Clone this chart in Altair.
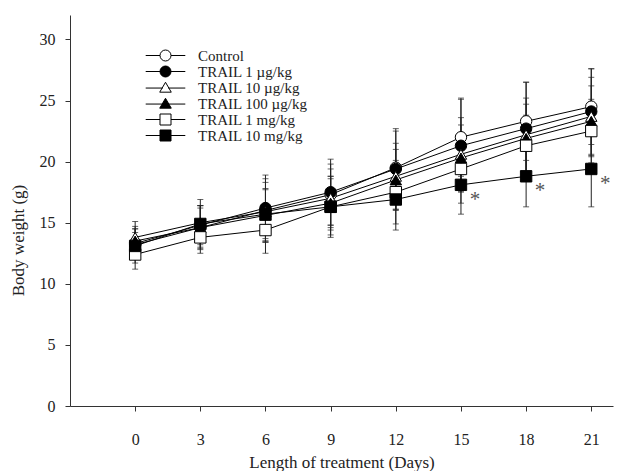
import altair as alt
import pandas as pd

# ---- data ----
days = [0, 3, 6, 9, 12, 15, 18, 21]
series = ["Control", "TRAIL 1 µg/kg", "TRAIL 10 µg/kg", "TRAIL 100 µg/kg",
          "TRAIL 1 mg/kg", "TRAIL 10 mg/kg"]

control      = [13.2, 14.6, 16.0, 17.3, 19.5, 22.0, 23.3, 24.5]
trail_1ug    = [13.3, 14.8, 16.2, 17.5, 19.4, 21.3, 22.7, 24.1]
trail_10ug   = [13.8, 15.0, 15.9, 17.0, 18.8, 20.6, 22.2, 23.7]
trail_100ug  = [13.5, 14.6, 15.6, 16.6, 18.5, 20.3, 21.9, 23.3]
trail_1mg    = [12.4, 13.8, 14.4, 16.3, 17.5, 19.4, 21.3, 22.5]
trail_10mg   = [13.1, 14.9, 15.7, 16.3, 16.9, 18.1, 18.8, 19.4]

sd_control     = [1.5, 1.8, 2.6, 2.5, 3.0, 3.2, 3.2, 3.1]
sd_trail_1ug   = [1.2, 1.6, 2.7, 2.7, 3.3, 3.8, 3.8, 3.5]
sd_trail_10ug  = [1.3, 1.4, 2.4, 2.4, 2.7, 3.0, 3.0, 3.2]
sd_trail_100ug = [1.0, 1.6, 2.2, 2.2, 2.5, 2.7, 2.8, 2.9]
sd_trail_1mg   = [1.2, 1.3, 1.9, 2.3, 2.6, 2.8, 2.5, 2.6]
sd_trail_10mg  = [1.1, 2.0, 2.0, 2.5, 2.5, 2.4, 2.5, 3.1]

significant_days = [15, 18, 21]   # marked * for TRAIL 10 mg/kg

means = [control, trail_1ug, trail_10ug, trail_100ug, trail_1mg, trail_10mg]
sds = [sd_control, sd_trail_1ug, sd_trail_10ug, sd_trail_100ug, sd_trail_1mg, sd_trail_10mg]

rows = []
for name, m_list, s_list in zip(series, means, sds):
    for d, m, s in zip(days, m_list, s_list):
        rows.append({"day": d, "series": name, "weight": m, "sd": s})
df = pd.DataFrame(rows)
star_df = df[(df["series"] == series[5]) & (df["day"].isin(significant_days))]

# ---- styling ----
FONT = "Liberation Serif"
shapes = ["circle", "circle", "triangle-up", "triangle-up", "square", "square"]
fills = ["white", "black", "white", "black", "white", "black"]
L = "M-3.6,0H-1M1,0H3.6"
LT = "M-3.6,0.1H-0.5M0.5,0.1H3.6"
legend_paths = [
    L + "M-1,0A1,1 0 1,0 1,0A1,1 0 1,0 -1,0Z",
    L + "M-1,0A1,1 0 1,0 1,0A1,1 0 1,0 -1,0Z",
    LT + "M0,-0.95L1.05,0.85L-1.05,0.85Z",
    LT + "M0,-0.95L1.05,0.85L-1.05,0.85Z",
    L + "M-1,-1H1V1H-1Z",
    L + "M-1,-1H1V1H-1Z",
]

xscale = alt.Scale(domain=[-3, 22], nice=False, zero=False)
yscale = alt.Scale(domain=[0, 32], nice=False, zero=True)
xaxis = alt.Axis(values=days, title="Length of treatment (Days)", labelPadding=20,
                 titlePadding=7, labelFlush=False)
yaxis = alt.Axis(values=[0, 5, 10, 15, 20, 25, 30], title="Body weight (g)",
                 labelPadding=10, titlePadding=12, titleY=225)

x = alt.X("day:Q", scale=xscale, axis=xaxis)

base = alt.Chart(df)
err = base.transform_calculate(lo="datum.weight - datum.sd", hi="datum.weight + datum.sd")

bars = err.mark_rule(color="#222", strokeWidth=1).encode(
    x=x, y=alt.Y("lo:Q", scale=yscale, axis=yaxis), y2="hi:Q")
cap_lo = err.mark_tick(orient="horizontal", size=6, thickness=1, color="#222").encode(
    x=x, y=alt.Y("lo:Q", scale=yscale, axis=yaxis))
cap_hi = err.mark_tick(orient="horizontal", size=6, thickness=1, color="#222").encode(
    x=x, y=alt.Y("hi:Q", scale=yscale, axis=yaxis))

lines = base.mark_line(color="black", strokeWidth=1).encode(
    x=x, y=alt.Y("weight:Q", scale=yscale, axis=yaxis), detail="series:N")

points = base.mark_point(filled=True, size=130, stroke="black", strokeWidth=1, opacity=1).encode(
    x=x, y=alt.Y("weight:Q", scale=yscale, axis=yaxis),
    shape=alt.Shape("series:N", scale=alt.Scale(domain=series, range=shapes), legend=None),
    fill=alt.Fill("series:N", scale=alt.Scale(domain=series, range=fills), legend=None),
)

leg = alt.Legend(title=None, orient="none", legendX=88, legendY=33, symbolSize=121,
                 symbolStrokeWidth=1, labelOffset=25,
                 labelFont=FONT, labelFontSize=15, labelColor="#222", rowPadding=0,
                 padding=0)
legend_layer = base.transform_filter("false").mark_point(
    filled=True, strokeWidth=1, opacity=1).encode(
    x=x, y=alt.Y("weight:Q", scale=yscale, axis=yaxis),
    shape=alt.Shape("series:N", scale=alt.Scale(domain=series, range=legend_paths), legend=leg),
    fill=alt.Fill("series:N", scale=alt.Scale(domain=series, range=fills), legend=leg),
    stroke=alt.Stroke("series:N", scale=alt.Scale(domain=series, range=["black"] * 6), legend=leg),
)

stars = alt.Chart(star_df).mark_text(text="*", dx=14, dy=15, fontSize=21, font=FONT,
                                     color="#555", baseline="middle").encode(
    x=x, y=alt.Y("weight:Q", scale=yscale, axis=yaxis))

chart = alt.layer(bars, cap_lo, cap_hi, lines, points, legend_layer, stars).resolve_scale(
    shape="independent", fill="independent", stroke="independent").resolve_legend(
    shape="independent", fill="independent", stroke="independent").properties(
    width=543, height=391,
    autosize=alt.AutoSizeParams(type="none"),
    padding={"left": 62, "top": 7, "right": 3, "bottom": 65},
).configure_view(stroke=None).configure_axis(
    grid=False, domainColor="#333", tickColor="#333", labelColor="#222",
    titleColor="#222", labelFont=FONT, titleFont=FONT, labelFontSize=16,
    titleFontSize=17, titleFontWeight="normal", tickSize=5,
)

chart.save("out.html", embed_options={"renderer": "svg", "actions": False})
